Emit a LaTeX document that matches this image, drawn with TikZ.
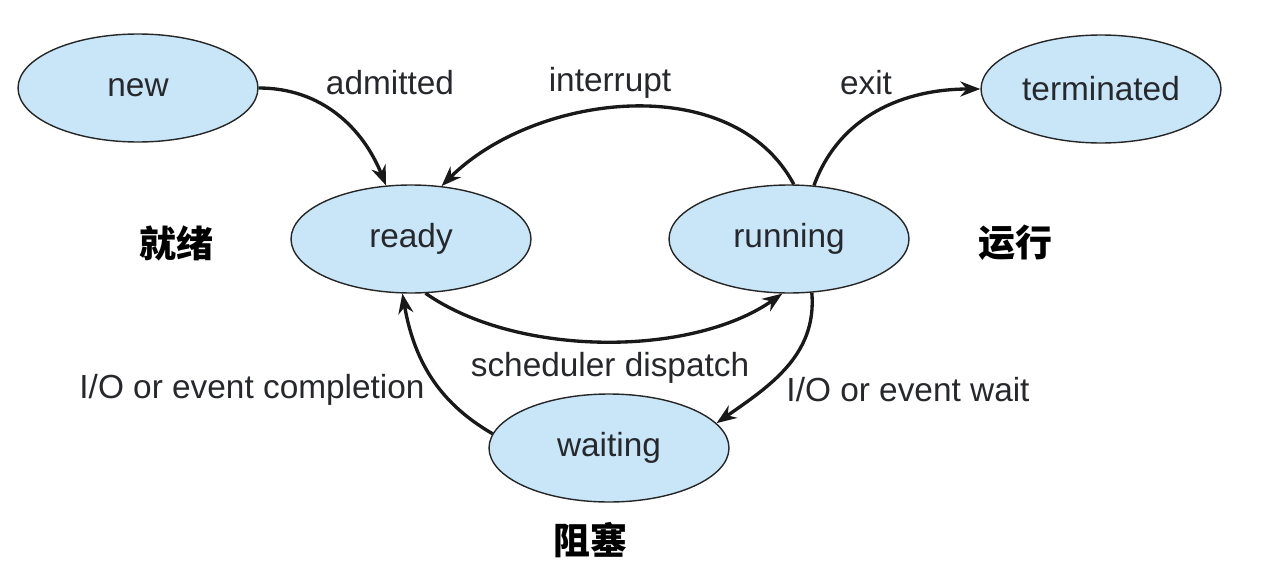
\documentclass[tikz,border=0pt]{standalone}
\usepackage{fontspec}
\setmainfont{Liberation Sans}
\newfontfamily\cjk{Noto Sans CJK SC}
\usetikzlibrary{arrows.meta, shapes.geometric}
\definecolor{stateblue}{RGB}{200,230,248}
\definecolor{inkgray}{RGB}{38,40,44}

\begin{document}
\begin{tikzpicture}[
    x=0.02cm, y=0.02cm,
    >={Stealth[length=4mm, width=3mm]},
    every node/.style={font=\fontsize{19}{22}\selectfont, text=inkgray},
    state/.style={ellipse, draw=black!85, line width=0.8pt, fill=stateblue,
                  minimum width=4.8cm, minimum height=2.16cm, inner sep=0pt},
    trans/.style={->, line width=1.9pt, draw=black!90},
    zh/.style={font=\cjk\bfseries\fontsize{21}{24}\selectfont, text=black},
]
\useasboundingbox (0,0) rectangle (1263,586);
% the five process states
\node[state] (new)   at (138,498) {new};
\node[state] (term)  at (1101,497) {terminated};
\node[state] (ready) at (411,347) {ready};
\node[state] (run)   at (789,347) {running};
\node[state] (wait)  at (609,138) {waiting};
% transitions between states
\draw[trans] (new.east) to[out=0, in=112] (ready.115);
\draw[trans] (run.85) to[out=118, in=45, looseness=0.95] (ready.60);
\draw[trans] (run.65) to[out=70, in=180] (term.west);
\draw[trans] (ready.-75) to[out=-35, in=-145, looseness=0.8] (run.-97);
\draw[trans] (run.-67) to[out=-85, in=35] (wait.13);
\draw[trans] (wait.173) to[out=150, in=-80] (ready.-99);
% transition labels
\node (admitted)   at (390,503) {admitted};
\node (interrupt)  at (610,503) {interrupt};
\node (exitlbl)    at (866,503) {exit};
\node (dispatch)   at (610,218) {scheduler dispatch};
\node (completion) at (252,196) {I/O or event completion};
\node (waitlbl)    at (908,196) {I/O or event wait};
% chinese state names
\node[zh] (zhready) at (176,343) {就绪};
\node[zh] (zhrun)   at (1015,343) {运行};
\node[zh] (zhwait)  at (590,46) {阻塞};
\end{tikzpicture}
\end{document}
